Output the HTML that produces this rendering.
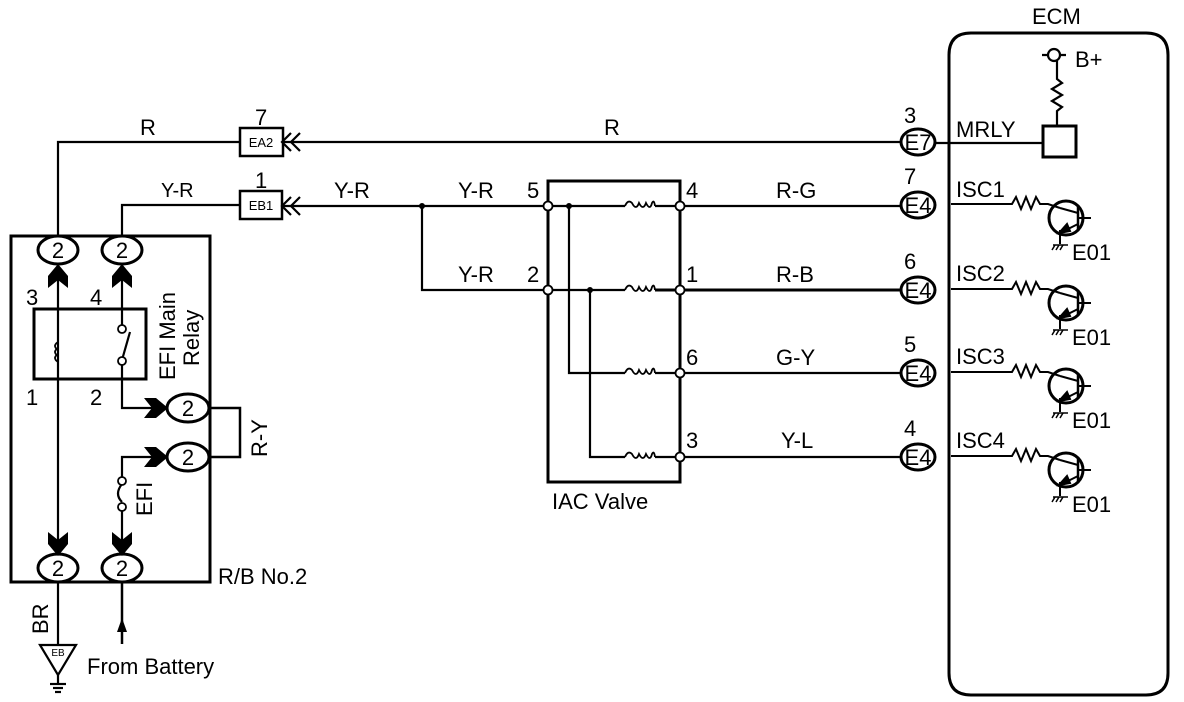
<!DOCTYPE html>
<html><head><meta charset="utf-8"><style>
html,body{margin:0;padding:0;background:#fff;}
svg{display:block;}
text{font-family:"Liberation Sans",sans-serif;fill:#000;}
</style></head><body>
<svg width="1184" height="702" viewBox="0 0 1184 702" xmlns="http://www.w3.org/2000/svg">
<defs>
<g id="tr" fill="none" stroke="#000" stroke-width="2">
<polyline points="951,0 1012,0 1016,-7 1021,5 1026,-7 1031,5 1036,-7 1040,0 1048,0 1060,4"/>
<circle cx="1066" cy="14" r="17" stroke-width="3"/>
<line x1="1078" y1="1" x2="1078" y2="27" stroke-width="2.5"/>
<line x1="1078" y1="14" x2="1091" y2="14"/>
<line x1="1060" y1="4" x2="1078" y2="9"/>
<line x1="1078" y1="20" x2="1062" y2="28"/>
<polygon points="1059,29 1067,20 1070,27" fill="#000"/>
<line x1="1060" y1="26" x2="1060" y2="40"/>
<line x1="1053" y1="41" x2="1068" y2="41" stroke-width="1.5"/>
<path d="M1055 41 l-3 5 M1059 41 l-3 5 M1063 41 l-3 5" stroke-width="1.5"/>
</g>
</defs>
<g fill="none" stroke="#000" stroke-width="2.2">
<path d="M949 55 Q949 33 971 33 L1146 33 Q1168 33 1168 55 L1168 673 Q1168 695 1146 695 L971 695 Q949 695 949 673 Z" stroke-width="3"/>
<line x1="1042" y1="55" x2="1066" y2="55"/>
<circle cx="1054" cy="55" r="6" fill="#fff"/>
<polyline points="1057,61 1057,79 1062,83 1052,89 1062,95 1052,101 1062,107 1057,111 1057,125"/>
<rect x="1043" y="126" width="33" height="31" stroke-width="3"/>
<line x1="934" y1="143" x2="1043" y2="143"/>
<line x1="283" y1="142" x2="902" y2="142"/>
<polyline points="240,142 58,142 58,238"/>
<rect x="240" y="128" width="43" height="28" stroke-width="2.5"/>
<rect x="240" y="191" width="42" height="28" stroke-width="2.5"/>
<polyline points="300,133 291,142 300,151"/><polyline points="291,133 282,142 291,151"/>
<polyline points="240,205 122,205 122,238"/>
<line x1="282" y1="206" x2="548" y2="206"/>
<polyline points="300,197 291,206 300,215"/><polyline points="291,197 282,206 291,215"/>
<polyline points="422,206 422,290 548,290"/>
<rect x="11" y="236" width="199" height="346" stroke-width="3"/>
<rect x="34" y="309" width="112" height="70" stroke-width="3"/>
<line x1="58" y1="264" x2="58" y2="556"/>
<line x1="122" y1="264" x2="122" y2="328"/>
<line x1="122" y1="360" x2="130" y2="332"/>
<polyline points="122,364 122,408 160,408"/>
<polyline points="122,465 122,457 160,457"/>
<line x1="122" y1="465" x2="122" y2="480"/><line x1="122" y1="508" x2="122" y2="556"/>
<path d="M122 484 Q114 494 122 502"/>
<polyline points="208,408 240,408 240,457 208,457" stroke-width="2.5"/>
<line x1="58" y1="582" x2="58" y2="645"/>
<line x1="122" y1="582" x2="122" y2="644" stroke-width="2.5"/>
<polygon points="40,645 76,645 58,675"/>
<line x1="58" y1="675" x2="58" y2="683"/>
<line x1="50" y1="684" x2="66" y2="684"/><line x1="53" y1="688" x2="63" y2="688"/><line x1="55" y1="692" x2="61" y2="692"/>
<rect x="548" y="181" width="132" height="301" stroke-width="3"/>
<line x1="548" y1="206" x2="625" y2="206"/><line x1="655" y1="206" x2="902" y2="206"/>
<line x1="548" y1="290" x2="625" y2="290"/><line x1="655" y1="290" x2="902" y2="290" stroke-width="3"/>
<polyline points="569,206 569,373 625,373"/><line x1="655" y1="373" x2="902" y2="373"/>
<polyline points="590,290 590,457 625,457"/><line x1="655" y1="457" x2="902" y2="457"/>
<g stroke-width="1.8">
<path d="M625 206 Q628 199 632 203 Q636 211 639 203 Q643 211 646 203 Q650 211 652 203 Q654 199 655 206"/>
<path d="M625 290 Q628 283 632 287 Q636 295 639 287 Q643 295 646 287 Q650 295 652 287 Q654 283 655 290"/>
<path d="M625 373 Q628 366 632 370 Q636 378 639 370 Q643 378 646 370 Q650 378 652 370 Q654 366 655 373"/>
<path d="M625 457 Q628 450 632 454 Q636 462 639 454 Q643 462 646 454 Q650 462 652 454 Q654 450 655 457"/>
<path d="M58 350 Q52 346 58 342 M58 356 Q52 352 58 348 M58 362 Q52 358 58 354"/>
</g>
<g fill="#fff" stroke-width="1.8">
<circle cx="548" cy="206" r="4.5"/><circle cx="548" cy="290" r="4.5"/>
<circle cx="680" cy="206" r="4.5"/><circle cx="680" cy="290" r="4.5"/>
<circle cx="680" cy="373" r="4.5"/><circle cx="680" cy="457" r="4.5"/>
<circle cx="122" cy="329" r="4"/><circle cx="122" cy="361" r="4"/>
<circle cx="122" cy="481" r="4"/><circle cx="122" cy="507" r="4"/>
</g>
<g fill="#fff" stroke-width="3">
<ellipse cx="58" cy="250" rx="20" ry="14"/><ellipse cx="122" cy="250" rx="20" ry="14"/>
<ellipse cx="58" cy="568" rx="20" ry="14"/><ellipse cx="122" cy="568" rx="20" ry="14"/>
<ellipse cx="188" cy="408" rx="21" ry="14"/><ellipse cx="188" cy="457" rx="21" ry="14"/>
<ellipse cx="918" cy="142" rx="17" ry="13"/><ellipse cx="918" cy="205" rx="17" ry="13"/>
<ellipse cx="918" cy="290" rx="17" ry="13"/><ellipse cx="918" cy="373" rx="17" ry="13"/>
<ellipse cx="918" cy="457" rx="17" ry="13"/>
</g>
</g>
<use href="#tr" y="204"/><use href="#tr" y="289"/><use href="#tr" y="372"/><use href="#tr" y="456"/>
<g fill="#000">
<circle cx="422" cy="206" r="3"/><circle cx="569" cy="206" r="3"/><circle cx="590" cy="290" r="3"/>
<polygon points="58,264 48,276 48,288 58,280 68,288 68,276"/><polygon points="122,264 112,276 112,288 122,280 132,288 132,276"/>
<polygon points="58,556 48,544 48,532 58,540 68,532 68,544"/><polygon points="122,556 112,544 112,532 122,540 132,532 132,544"/>
<polygon points="168,408 156,398 144,398 152,408 144,418 156,418"/><polygon points="168,457 156,447 144,447 152,457 144,467 156,467"/>
<polygon points="122,618 117,632 127,632"/>
</g>
<g font-size="22">
<text x="1032" y="24">ECM</text>
<text x="1075" y="67">B+</text>
<text x="956" y="137">MRLY</text>
<text x="956" y="197">ISC1</text>
<text x="956" y="281">ISC2</text>
<text x="956" y="364">ISC3</text>
<text x="956" y="448">ISC4</text>
<text x="1072" y="260">E01</text><text x="1072" y="345">E01</text>
<text x="1072" y="428">E01</text><text x="1072" y="512">E01</text>
<text x="904" y="123">3</text><text x="904" y="184">7</text><text x="904" y="269">6</text>
<text x="904" y="352">5</text><text x="904" y="436">4</text>
<text x="140" y="135">R</text>
<text x="604" y="135">R</text>
<text x="255" y="125">7</text><text x="255" y="188">1</text>
<text x="161" y="197" font-size="20">Y-R</text>
<text x="334" y="198">Y-R</text>
<text x="458" y="198">Y-R</text><text x="527" y="198">5</text>
<text x="458" y="282">Y-R</text><text x="527" y="282">2</text>
<text x="686" y="198">4</text><text x="686" y="282">1</text><text x="686" y="365">6</text><text x="686" y="448">3</text>
<text x="776" y="198">R-G</text><text x="776" y="282">R-B</text><text x="776" y="365">G-Y</text><text x="781" y="448">Y-L</text>
<text x="552" y="509">IAC Valve</text>
<text x="26" y="305">3</text><text x="90" y="305">4</text>
<text x="26" y="405">1</text><text x="90" y="405">2</text>
<text x="218" y="584">R/B No.2</text>
<text x="87" y="674">From Battery</text>
<text transform="translate(175,380) rotate(-90)">EFI Main</text>
<text transform="translate(199,366) rotate(-90)">Relay</text>
<text transform="translate(267,457) rotate(-90)">R-Y</text>
<text transform="translate(152,516) rotate(-90)">EFI</text>
<text transform="translate(48,634) rotate(-90)">BR</text>
</g>
<g font-size="22" text-anchor="middle">
<text x="58" y="258">2</text><text x="122" y="258">2</text>
<text x="58" y="576">2</text><text x="122" y="576">2</text>
<text x="188" y="416">2</text><text x="188" y="465">2</text>
<text x="918" y="150">E7</text><text x="918" y="213">E4</text><text x="918" y="298">E4</text>
<text x="918" y="381">E4</text><text x="918" y="465">E4</text>
</g>
<g font-size="13" text-anchor="middle">
<text x="261" y="147">EA2</text><text x="261" y="210">EB1</text>
<text x="58" y="656" font-size="10">EB</text>
</g>
</svg>
</body></html>
